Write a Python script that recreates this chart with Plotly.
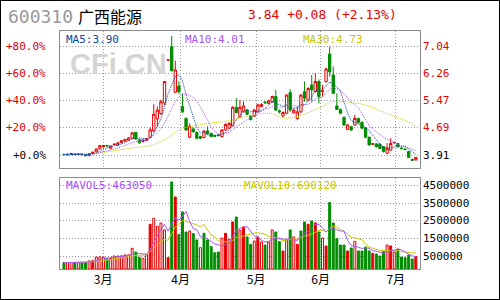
import plotly.graph_objects as go
import pandas as pd

# ---------------- data ----------------
opens = [3.93, 3.92, 3.92, 3.94, 3.93, 3.94, 3.92, 3.89, 3.95, 4.00,
         4.09, 4.15, 4.18, 4.10, 4.21, 4.19, 4.27, 4.31, 4.34, 4.39,
         4.56, 4.35, 4.30, 4.33, 4.42, 4.60, 4.95, 5.10, 5.40, 6.63,
         7.02, 5.71, 5.89, 5.30, 4.96, 4.42, 4.66, 4.56, 4.44, 4.41,
         4.60, 4.53, 4.46, 4.48, 4.44, 4.63, 4.68, 4.75, 5.28, 5.01,
         5.15, 5.20, 5.03, 5.03, 5.15, 5.30, 5.43, 5.39, 5.44, 5.59,
         5.18, 5.03, 5.11, 5.70, 5.12, 4.96, 5.15, 5.73, 5.49, 5.92,
         5.73, 6.02, 5.74, 6.02, 6.81, 6.21, 5.32, 5.22, 4.99, 4.65,
         4.72, 4.77, 4.96, 4.85, 4.69, 4.42, 4.22, 4.23, 4.22, 4.15,
         3.96, 4.05, 4.26, 4.24, 4.11, 4.08, 4.01, 3.78, 3.77]
highs = [3.94, 3.95, 3.97, 3.95, 3.96, 3.95, 3.93, 3.96, 4.01, 4.10,
         4.20, 4.19, 4.20, 4.18, 4.24, 4.28, 4.33, 4.37, 4.42, 4.56,
         4.57, 4.37, 4.36, 4.40, 4.70, 5.37, 5.30, 5.50, 6.02, 6.66,
         7.33, 6.62, 6.02, 5.68, 4.99, 4.82, 4.70, 4.58, 4.46, 4.62,
         4.74, 4.55, 4.49, 4.50, 4.65, 4.82, 4.85, 5.31, 5.54, 5.49,
         5.45, 5.23, 5.05, 5.23, 5.38, 5.40, 5.46, 5.50, 5.62, 5.78,
         5.22, 5.16, 5.66, 5.80, 5.25, 5.30, 5.66, 6.02, 5.86, 6.21,
         6.26, 6.08, 5.92, 6.42, 7.02, 6.45, 5.68, 5.24, 5.02, 4.80,
         4.75, 5.06, 4.98, 4.87, 4.71, 4.44, 4.25, 4.25, 4.24, 4.17,
         4.25, 4.39, 4.30, 4.26, 4.13, 4.10, 4.03, 3.81, 3.85]
lows = [3.91, 3.90, 3.91, 3.92, 3.92, 3.92, 3.88, 3.88, 3.94, 3.99,
        4.07, 4.12, 4.15, 4.09, 4.19, 4.18, 4.25, 4.29, 4.33, 4.38,
        4.35, 4.23, 4.27, 4.32, 4.40, 4.58, 4.72, 5.06, 5.35, 6.62,
        6.31, 5.70, 5.66, 5.12, 4.60, 4.39, 4.55, 4.37, 4.37, 4.39,
        4.48, 4.42, 4.42, 4.44, 4.42, 4.61, 4.66, 4.73, 5.10, 4.99,
        5.13, 5.05, 4.90, 5.00, 5.13, 5.28, 5.38, 5.37, 5.42, 5.18,
        5.10, 5.00, 5.08, 5.15, 5.10, 4.92, 5.12, 5.44, 5.47, 5.44,
        5.70, 5.39, 5.59, 5.99, 6.16, 5.68, 5.20, 5.08, 4.75, 4.62,
        4.60, 4.75, 4.82, 4.65, 4.40, 4.18, 4.20, 4.12, 4.08, 3.98,
        3.94, 4.03, 4.23, 4.12, 4.07, 4.04, 3.82, 3.74, 3.75]
closes = [3.92, 3.93, 3.95, 3.93, 3.94, 3.92, 3.89, 3.95, 3.99, 4.08,
          4.18, 4.18, 4.17, 4.17, 4.22, 4.26, 4.32, 4.36, 4.40, 4.55,
          4.37, 4.26, 4.34, 4.38, 4.63, 5.08, 5.20, 5.44, 6.02, 6.64,
          6.33, 6.35, 5.73, 5.15, 4.63, 4.74, 4.58, 4.39, 4.39, 4.60,
          4.53, 4.44, 4.45, 4.47, 4.63, 4.79, 4.82, 5.28, 5.13, 5.28,
          5.32, 5.08, 4.93, 5.20, 5.35, 5.36, 5.41, 5.46, 5.59, 5.20,
          5.15, 5.13, 5.63, 5.20, 5.20, 5.15, 5.63, 5.54, 5.82, 5.78,
          6.02, 5.59, 5.75, 6.38, 6.30, 5.68, 5.22, 5.11, 4.77, 4.77,
          4.63, 4.96, 4.84, 4.68, 4.42, 4.20, 4.23, 4.15, 4.10, 4.01,
          4.10, 4.24, 4.27, 4.15, 4.10, 4.07, 3.84, 3.76, 3.84]
volumes = [120000, 125000, 130000, 120000, 125000, 120000, 130000, 216000, 230000, 440000,
           450000, 430000, 350000, 360000, 500000, 500000, 510000, 560000, 560000, 935000,
           727000, 424000, 368000, 576000, 2300000, 2640000, 2180000, 2370000, 1980000, 405000,
           4700000, 3850000, 1730000, 3000000, 1860000, 1920000, 1770000, 1410000, 973000, 1790000,
           1410000, 1030000, 689000, 727000, 1520000, 1790000, 1450000, 2430000, 2710000, 1960000,
           2150000, 1580000, 1160000, 1350000, 1580000, 1290000, 1120000, 1290000, 1980000, 1860000,
           1310000, 784000, 1410000, 1980000, 1580000, 1160000, 1920000, 2430000, 2300000, 2490000,
           2380000, 1860000, 1520000, 1070000, 3530000, 2370000, 1480000, 1120000, 1120000, 784000,
           954000, 1330000, 784000, 784000, 1010000, 784000, 651000, 613000, 500000, 746000,
           1120000, 1070000, 727000, 878000, 443000, 405000, 557000, 330000, 462000]
# volume bar style: u = rising (hollow red), f = filled red, d = falling (green)
vol_kind = list("duududdufu" "uuduuuuuuu" "dduufuuuuf" "dfddduddud"
                "ddddufufdu" "fddufuduud" "dfudufddfd" "fdufdddddf"
                "duddddfddd" "ufudddddf")
month_labels = ["3月", "4月", "5月", "6月", "7月"]
month_pos = [10.9, 32.5, 53.5, 71.5, 92.4]
base_price = 3.91
pct_levels = [0, 20, 40, 60, 80]
vol_ticks = [500000, 1500000, 2500000, 3500000, 4500000]
header_code = "600310"
header_name = "广西能源"
header_quote = "3.84 +0.08 (+2.13%)"
ma_texts = ["MA5:3.90", "MA10:4.01", "MA30:4.73"]
mavol_texts = ["MAVOL5:463050", "MAVOL10:690120"]

# ---------------- styles ----------------
RED = "#e60000"
GREEN = "#008c00"
C_MA5 = "#0a4a9a"
C_MA10 = "#a855f7"
C_MA30 = "#c8c800"
GRID = "#9a9a9a"
FRAME = "#8c8c8c"
MONO = "DejaVu Sans Mono"
PRICE_RANGE = [3.537, 7.471]
VOL_RANGE = [-237600, 4925600]
X_RANGE = [-1.11, 99.16]

idx = list(range(len(closes)))
cs = pd.Series(closes)
ma5 = cs.rolling(5, min_periods=1).mean()
ma10 = cs.rolling(10, min_periods=1).mean()
ma30 = cs.rolling(30, min_periods=1).mean()
vs = pd.Series(volumes)
mv5 = vs.rolling(5, min_periods=1).mean()
mv10 = vs.rolling(10, min_periods=1).mean()

fig = go.Figure()
fig.add_trace(go.Candlestick(
    x=idx, open=opens, high=highs, low=lows, close=closes,
    increasing=dict(line=dict(color=RED, width=1), fillcolor="white"),
    decreasing=dict(line=dict(color=GREEN, width=1), fillcolor=GREEN),
    whiskerwidth=0, xaxis="x", yaxis="y", showlegend=False, hoverinfo="skip"))
for s, c in [(ma30, C_MA30), (ma10, C_MA10), (ma5, C_MA5)]:
    fig.add_trace(go.Scatter(x=idx, y=s, mode="lines", xaxis="x", yaxis="y",
                             line=dict(color=c, width=1, dash="1px,1px"),
                             showlegend=False, hoverinfo="skip"))

fill_map = {"u": "white", "f": RED, "d": GREEN}
line_map = {"u": RED, "f": RED, "d": GREEN}
fig.add_trace(go.Bar(
    x=idx, y=[v - VOL_RANGE[0] for v in volumes], base=VOL_RANGE[0],
    width=0.55, xaxis="x2", yaxis="y2",
    marker=dict(color=[fill_map[k] for k in vol_kind],
                line=dict(color=[line_map[k] for k in vol_kind], width=1)),
    showlegend=False, hoverinfo="skip"))
fig.add_trace(go.Scatter(x=idx, y=mv10, mode="lines", xaxis="x2", yaxis="y2",
                         line=dict(color=C_MA30, width=1), showlegend=False, hoverinfo="skip"))
fig.add_trace(go.Scatter(x=idx, y=mv5, mode="lines", xaxis="x2", yaxis="y2",
                         line=dict(color=C_MA10, width=1), showlegend=False, hoverinfo="skip"))

axis_common = dict(showgrid=True, gridcolor=GRID, griddash="1px,2px", gridwidth=1,
                   showline=True, mirror=True, linecolor=FRAME, linewidth=1,
                   zeroline=False, ticks="", fixedrange=True)
price_ticks = [base_price * (1 + p / 100) for p in pct_levels]
fig.update_layout(
    width=500, height=300, margin=dict(l=0, r=0, t=0, b=0),
    paper_bgcolor="white", plot_bgcolor="white", hovermode=False,
    boxgap=0.35, boxgroupgap=0, bargap=0.3,
    xaxis=dict(domain=[0.12, 0.84], range=X_RANGE, anchor="y", tickvals=month_pos,
               showticklabels=False, rangeslider=dict(visible=False), **axis_common),
    yaxis=dict(domain=[1 - 168 / 300, 1 - 31 / 300], range=PRICE_RANGE, anchor="x",
               tickvals=price_ticks, showticklabels=False, **axis_common),
    xaxis2=dict(domain=[0.12, 0.84], range=X_RANGE, anchor="y2", tickvals=month_pos,
                ticktext=month_labels, showticklabels=True,
                tickfont=dict(family="Noto Sans CJK SC", size=12, color="black"), **axis_common),
    yaxis2=dict(domain=[1 - 269 / 300, 1 - 178 / 300], range=VOL_RANGE, anchor="x2",
                tickvals=vol_ticks, showticklabels=False, **axis_common),
)

ann = []
def txt(x, y, s, color, size, family=MONO, xanchor="left", yref="paper", **kw):
    ann.append(dict(x=x, y=y, xref="paper", yref=yref, text=s, showarrow=False,
                    xanchor=xanchor, yanchor="middle",
                    font=dict(family=family, size=size, color=color), **kw))

for p, v in zip(pct_levels, price_ticks):
    col = RED if p > 0 else "black"
    txt(48 / 500, v, f"+{p:.1f}%", col, 11, xanchor="right", yref="y")
    txt(421 / 500, v, f"{v:.2f}", col, 11, yref="y")
for v in vol_ticks:
    txt(421 / 500, v, f"{v}", "black", 11, yref="y2")

txt(6 / 500, 1 - 16.3 / 300, header_code, "#999999", 18)
txt(76 / 500, 1 - 16 / 300, header_name, "black", 16, family="Noto Sans CJK SC")
txt(246 / 500, 1 - 14.5 / 300, header_quote, RED, 13)

txt(64 / 500, 1 - 39 / 300, ma_texts[0], C_MA5, 11)
txt(183 / 500, 1 - 39 / 300, ma_texts[1], C_MA10, 11)
txt(301 / 500, 1 - 39 / 300, ma_texts[2], C_MA30, 11)
txt(64 / 500, 1 - 185.8 / 300, mavol_texts[0], C_MA10, 11)
txt(242 / 500, 1 - 185.8 / 300, mavol_texts[1], C_MA30, 11)

ann.append(dict(x=118 / 500, y=1 - 64.5 / 300, xref="paper", yref="paper", text="CFi.CN",
                showarrow=False, xanchor="center", yanchor="middle",
                font=dict(family="Liberation Sans", size=29, color="#d4d4d4", weight="bold")))
fig.update_layout(annotations=ann)
fig.add_shape(type="rect", xref="paper", yref="paper", x0=0, y0=0, x1=1, y1=1,
              line=dict(color="black", width=2))

fig.write_html("out.html")
